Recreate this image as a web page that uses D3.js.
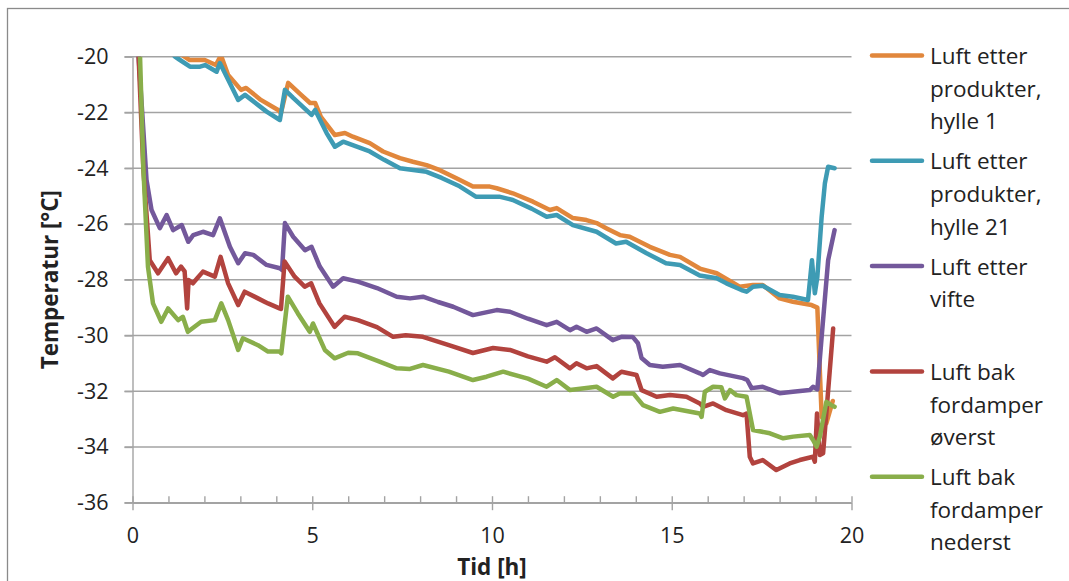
<!DOCTYPE html>
<html>
<head>
<meta charset="utf-8">
<script src="https://cdn.jsdelivr.net/npm/d3@7"></script>
<style>
  html, body { margin: 0; padding: 0; background: #fff; }
  svg { display: block; }
  text { font-family: "Open Sans", "Noto Sans", sans-serif; fill: #222; }
</style>
</head>
<body>
<svg id="chart" width="1069" height="581"></svg>
<script>
// ---------- data ----------
const xTicks = [0, 5, 10, 15, 20];
const xMinorTicks = [0,1,2,3,4,5,6,7,8,9,10,11,12,13,14,15,16,17,18,19,20];
const yTicks = [-36, -34, -32, -30, -28, -26, -24, -22, -20];
const yTickLabels = ["-36", "-34", "-32", "-30", "-28", "-26", "-24", "-22", "-20"];
const xTitle = "Tid [h]";
const yTitle = "Temperatur [°C]";

const seriesNames = [
  ["Luft etter", "produkter,", "hylle 1"],
  ["Luft etter", "produkter,", "hylle 21"],
  ["Luft etter", "vifte"],
  ["Luft bak", "fordamper", "øverst"],
  ["Luft bak", "fordamper", "nederst"]
];
const seriesColors = ["#E1873C", "#3E9BB4", "#73589B", "#B2433E", "#89AE4A"];

// Luft etter produkter, hylle 1
const tHylle1 = [0, 0.6, 1.1, 1.59, 2.01, 2.32, 2.46, 2.66, 3.02, 3.16, 3.57, 4.05, 4.13, 4.33, 4.69, 4.94, 5.08, 5.24, 5.63, 5.91, 6.13, 6.6, 6.97, 7.44, 7.8, 8.18, 8.55, 9.01, 9.47, 9.94, 10.13, 10.58, 11.14, 11.61, 11.8, 12.25, 12.63, 12.91, 13.19, 13.56, 13.83, 14.39, 14.95, 15.23, 15.78, 16.25, 16.89, 17.26, 17.53, 18.0, 18.37, 18.89, 19.05, 19.17, 19.3, 19.48];
const vHylle1 = [-14, -18.8, -19.7, -20.12, -20.12, -20.3, -19.95, -20.66, -21.19, -21.12, -21.55, -21.91, -22.02, -20.94, -21.37, -21.66, -21.66, -22.16, -22.81, -22.74, -22.87, -23.1, -23.4, -23.64, -23.77, -23.89, -24.07, -24.36, -24.66, -24.66, -24.72, -24.9, -25.2, -25.5, -25.43, -25.79, -25.86, -25.97, -26.16, -26.4, -26.46, -26.82, -27.11, -27.18, -27.6, -27.77, -28.25, -28.19, -28.19, -28.67, -28.79, -28.91, -29.0, -32.92, -33.15, -32.35];

// Luft etter produkter, hylle 21
const tHylle21 = [0, 0.6, 1.0, 1.18, 1.3, 1.6, 1.88, 2.02, 2.34, 2.43, 2.71, 2.94, 3.13, 3.73, 4.1, 4.24, 4.47, 4.98, 5.08, 5.4, 5.63, 5.86, 6.24, 6.6, 7.0, 7.44, 8.18, 8.6, 9.1, 9.55, 10.2, 10.58, 11.1, 11.52, 11.8, 12.25, 12.91, 13.45, 13.73, 14.3, 14.84, 15.23, 15.78, 16.25, 16.52, 16.94, 17.08, 17.26, 17.53, 18.0, 18.37, 18.79, 18.9, 18.98, 19.05, 19.17, 19.26, 19.35, 19.53];
const vHylle21 = [-14, -18.8, -19.7, -20.0, -20.1, -20.36, -20.36, -20.3, -20.54, -20.23, -20.95, -21.55, -21.37, -21.97, -22.27, -21.19, -21.48, -22.09, -21.91, -22.74, -23.23, -23.05, -23.23, -23.4, -23.7, -24.0, -24.13, -24.35, -24.65, -25.02, -25.02, -25.14, -25.45, -25.74, -25.68, -26.04, -26.28, -26.7, -26.64, -27.05, -27.41, -27.47, -27.85, -27.95, -28.13, -28.37, -28.43, -28.25, -28.22, -28.55, -28.61, -28.73, -27.3, -28.49, -27.9, -25.74, -24.54, -23.95, -24.0];

// Luft etter vifte
const tVifte = [0, 0.17, 0.3, 0.39, 0.53, 0.76, 0.95, 1.13, 1.37, 1.55, 1.69, 1.96, 2.24, 2.43, 2.71, 2.94, 3.13, 3.36, 3.73, 4.1, 4.16, 4.24, 4.47, 4.8, 4.98, 5.21, 5.58, 5.86, 6.27, 6.8, 7.35, 7.72, 8.08, 8.5, 8.92, 9.47, 10.13, 10.5, 11.0, 11.52, 11.8, 12.17, 12.35, 12.63, 12.91, 13.36, 13.6, 13.92, 14.06, 14.16, 14.39, 14.75, 15.23, 15.78, 15.87, 16.06, 16.34, 16.98, 17.1, 17.22, 17.53, 18.0, 18.37, 18.84, 18.93, 19.05, 19.17, 19.35, 19.53];
const vVifte = [-12, -20, -22.6, -24.42, -25.5, -26.15, -25.68, -26.22, -26.04, -26.64, -26.4, -26.28, -26.4, -25.8, -26.82, -27.41, -27.05, -27.11, -27.47, -27.59, -27.65, -25.97, -26.46, -26.94, -26.82, -27.53, -28.25, -27.95, -28.07, -28.3, -28.61, -28.67, -28.61, -28.8, -28.97, -29.27, -29.09, -29.15, -29.4, -29.63, -29.51, -29.81, -29.69, -29.87, -29.75, -30.17, -30.05, -30.06, -30.28, -30.81, -31.06, -31.12, -31.06, -31.36, -31.42, -31.24, -31.36, -31.53, -31.6, -31.89, -31.84, -32.07, -32.02, -31.96, -31.84, -31.93, -30.05, -27.3, -26.22];

// Luft bak fordamper øverst
const tOverst = [0, 0.17, 0.3, 0.48, 0.71, 0.99, 1.21, 1.35, 1.45, 1.52, 1.56, 1.68, 1.96, 2.29, 2.45, 2.66, 2.94, 3.12, 3.49, 3.77, 4.09, 4.13, 4.23, 4.51, 4.79, 4.97, 5.2, 5.62, 5.9, 6.27, 6.8, 7.25, 7.6, 8.08, 8.8, 9.47, 10.03, 10.5, 11.0, 11.52, 11.75, 12.17, 12.35, 12.63, 12.91, 13.36, 13.6, 14.02, 14.16, 14.58, 14.95, 15.41, 15.78, 15.87, 16.15, 16.52, 16.98, 17.08, 17.17, 17.26, 17.53, 17.91, 18.28, 18.56, 18.93, 18.98, 19.04, 19.12, 19.21, 19.49];
const vOverst = [-12, -20, -24, -27.3, -27.77, -27.23, -27.77, -27.53, -27.7, -29.03, -28.01, -28.13, -27.71, -27.89, -27.18, -28.13, -28.91, -28.43, -28.67, -28.85, -29.03, -29.05, -27.35, -27.89, -28.25, -28.13, -28.85, -29.69, -29.33, -29.45, -29.7, -30.05, -29.99, -30.05, -30.35, -30.63, -30.45, -30.52, -30.75, -30.94, -30.78, -31.18, -31.0, -31.18, -31.1, -31.54, -31.3, -31.42, -31.96, -32.2, -32.14, -32.2, -32.44, -32.56, -32.44, -32.68, -32.86, -32.8, -34.35, -34.59, -34.47, -34.83, -34.59, -34.47, -34.35, -34.53, -32.8, -34.29, -34.23, -29.75];

// Luft bak fordamper nederst
const tNederst = [0, 0.21, 0.3, 0.43, 0.57, 0.8, 0.99, 1.27, 1.4, 1.54, 1.91, 2.29, 2.47, 2.66, 2.94, 3.07, 3.49, 3.77, 4.09, 4.14, 4.32, 4.6, 4.93, 5.02, 5.35, 5.62, 6.0, 6.27, 6.8, 7.35, 7.72, 8.08, 8.8, 9.47, 9.85, 10.31, 11.0, 11.52, 11.8, 12.17, 12.91, 13.37, 13.55, 13.93, 14.2, 14.67, 15.04, 15.78, 15.83, 15.92, 16.15, 16.38, 16.48, 16.62, 16.8, 17.08, 17.26, 17.73, 18.1, 18.38, 18.84, 18.93, 19.03, 19.12, 19.3, 19.44, 19.53];
const vNederst = [-12, -20, -23.95, -27.53, -28.85, -29.51, -29.03, -29.45, -29.33, -29.87, -29.51, -29.45, -28.85, -29.45, -30.52, -30.1, -30.35, -30.58, -30.58, -30.64, -28.61, -29.21, -29.87, -29.57, -30.52, -30.82, -30.62, -30.64, -30.9, -31.18, -31.2, -31.06, -31.3, -31.6, -31.48, -31.3, -31.55, -31.84, -31.6, -31.96, -31.84, -32.2, -32.08, -32.08, -32.5, -32.74, -32.62, -32.8, -32.92, -32.02, -31.84, -31.86, -32.26, -31.96, -32.14, -32.2, -33.39, -33.51, -33.69, -33.63, -33.57, -33.75, -33.99, -33.63, -32.38, -32.5, -32.56];

const seriesT = [tHylle1, tHylle21, tVifte, tOverst, tNederst];
const seriesV = [vHylle1, vHylle21, vVifte, vOverst, vNederst];

// ---------- layout ----------
const svg = d3.select("#chart");
const plot = { left: 132.5, right: 851.5, top: 56.7, bottom: 502.7 };
const x = d3.scaleLinear().domain([0, 20]).range([plot.left, plot.right]);
const y = d3.scaleLinear().domain([-36, -20]).range([plot.bottom, plot.top]);
const gridColor = "#a3a3a3";
const fontSize = 22.5;
const tickFontSize = 21.5;

// outer chart border
svg.append("rect")
  .attr("x", 7.5).attr("y", 8.5).attr("width", 1200).attr("height", 700)
  .attr("fill", "none").attr("stroke", "#8a8a8a").attr("stroke-width", 1.3);

// horizontal gridlines
svg.append("g").selectAll("line").data(yTicks).join("line")
  .attr("x1", plot.left - 8).attr("x2", plot.right)
  .attr("y1", d => y(d)).attr("y2", d => y(d))
  .attr("stroke", gridColor).attr("stroke-width", 1.4);

// y axis
const yAxis = svg.append("g").attr("transform", `translate(${plot.left},0)`)
  .call(d3.axisLeft(y).tickValues(yTicks).tickSize(8).tickSizeOuter(0).tickPadding(16)
    .tickFormat((d, i) => yTickLabels[i]));
yAxis.select(".domain").attr("stroke", gridColor).attr("stroke-width", 1.4);
yAxis.selectAll(".tick line").attr("stroke", gridColor).attr("stroke-width", 1.4);
yAxis.selectAll(".tick text").attr("font-size", tickFontSize).attr("font-family", "Open Sans").attr("fill", "#222");

// x axis minor ticks (inside)
const xMinor = svg.append("g").attr("transform", `translate(0,${plot.bottom})`)
  .call(d3.axisBottom(x).tickValues(xMinorTicks).tickSize(-6.5).tickSizeOuter(0).tickFormat(""));
xMinor.select(".domain").remove();
xMinor.selectAll(".tick line").attr("stroke", gridColor).attr("stroke-width", 1.4);

// x axis major ticks + labels
const xAxis = svg.append("g").attr("transform", `translate(0,${plot.bottom})`)
  .call(d3.axisBottom(x).tickValues(xTicks).tickSize(7.5).tickSizeOuter(0).tickPadding(18));
xAxis.select(".domain").attr("stroke", gridColor).attr("stroke-width", 1.4);
xAxis.selectAll(".tick line").attr("stroke", gridColor).attr("stroke-width", 1.4);
xAxis.selectAll(".tick text").attr("font-size", tickFontSize).attr("font-family", "Open Sans").attr("fill", "#222");

// axis titles
svg.append("text").attr("x", (plot.left + plot.right) / 2).attr("y", 575)
  .attr("text-anchor", "middle").attr("font-weight", "bold").attr("font-size", fontSize)
  .text(xTitle);
svg.append("text").attr("transform", `translate(58,${(plot.top + plot.bottom) / 2}) rotate(-90)`)
  .attr("text-anchor", "middle").attr("font-weight", "bold").attr("font-size", fontSize)
  .text(yTitle);

// clip
svg.append("clipPath").attr("id", "plotclip").append("rect")
  .attr("x", plot.left).attr("y", plot.top)
  .attr("width", plot.right - plot.left).attr("height", plot.bottom - plot.top);

const line = d3.line().x(d => x(d[0])).y(d => y(d[1]));
const gLines = svg.append("g").attr("clip-path", "url(#plotclip)");
seriesT.forEach((ts, i) => {
  const pts = ts.map((t, j) => [t, seriesV[i][j]]);
  gLines.append("path").datum(pts)
    .attr("d", line)
    .attr("fill", "none")
    .attr("stroke", seriesColors[i])
    .attr("stroke-width", 4.5)
    .attr("stroke-linejoin", "round")
    .attr("stroke-linecap", "round");
});

// legend
const legend = svg.append("g");
const legendBase = 64, legendStep = 105.3, linePitch = 32.6;
seriesNames.forEach((lines, i) => {
  const by = legendBase + i * legendStep;
  legend.append("line").attr("x1", 872).attr("x2", 922)
    .attr("y1", by - 8.5).attr("y2", by - 8.5)
    .attr("stroke", seriesColors[i]).attr("stroke-width", 4.5).attr("stroke-linecap", "round");
  const t = legend.append("text").attr("x", 930).attr("y", by).attr("font-size", fontSize);
  lines.forEach((s, k) => {
    t.append("tspan").attr("x", 930).attr("y", by + k * linePitch).text(s);
  });
});
</script>
</body>
</html>
